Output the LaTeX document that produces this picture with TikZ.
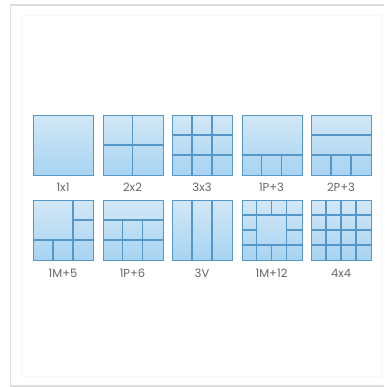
\documentclass[tikz,border=0pt]{standalone}
\usepackage{fontspec}
\setmainfont{Poppins}
\definecolor{pborder}{HTML}{5597C8}
\definecolor{ptop}{HTML}{D2E8F7}
\definecolor{pbot}{HTML}{A6D3F1}
\definecolor{labgray}{HTML}{666666}
\definecolor{framegray}{HTML}{DDDDDD}
\definecolor{faint}{HTML}{F8F8F8}
\begin{document}
\begin{tikzpicture}[x=1pt,y=-1pt,
  panel/.style={draw=pborder, line width=1.3pt, top color=ptop, bottom color=pbot,
    minimum width=60pt, minimum height=60pt, inner sep=0pt, anchor=north west},
  gridline/.style={draw=pborder, line width=1.3pt},
  lab/.style={font=\fontsize{11.5}{11.5}\selectfont, text=labgray, inner sep=0pt}]
\useasboundingbox (0,0) rectangle (384,387);
\fill[white] (0,0) rectangle (384,387);
% frame
\draw[faint, line width=1pt] (21,16) rectangle (381,376);
\draw[framegray, line width=1.5pt] (384,5) -- (10.5,5) -- (10.5,386) -- (384,386);
% row 1
\node[panel] (p1) at (33,115) {};
\node[panel] (p2) at (102.5,115) {};
\node[panel] (p3) at (172,115) {};
\node[panel] (p4) at (241.5,115) {};
\node[panel] (p5) at (311,115) {};
% row 2
\node[panel] (q1) at (33,200) {};
\node[panel] (q2) at (102.5,200) {};
\node[panel] (q3) at (172,200) {};
\node[panel] (q4) at (241.5,200) {};
\node[panel] (q5) at (311,200) {};
% labels
\node[lab] (l1) at (63,187) {1x1};
\node[lab] (l2) at (132.5,187) {2x2};
\node[lab] (l3) at (202,187) {3x3};
\node[lab] (l4) at (271.5,187) {1P+3};
\node[lab] (l5) at (341,187) {2P+3};
\node[lab] (m1) at (63,273) {1M+5};
\node[lab] (m2) at (132.5,273) {1P+6};
\node[lab] (m3) at (202,273) {3V};
\node[lab] (m4) at (271.5,273) {1M+12};
\node[lab] (m5) at (341,273) {4x4};
% 2x2
\begin{scope}[shift={(102.5,115)}]
\draw[gridline] (30,0) -- (30,60) (0,30) -- (60,30);
\end{scope}
% 3x3
\begin{scope}[shift={(172,115)}]
\draw[gridline] (20,0) -- (20,60) (40,0) -- (40,60) (0,20) -- (60,20) (0,40) -- (60,40);
\end{scope}
% 1P+3
\begin{scope}[shift={(241.5,115)}]
\draw[gridline] (0,40) -- (60,40) (20,40) -- (20,60) (40,40) -- (40,60);
\end{scope}
% 2P+3
\begin{scope}[shift={(311,115)}]
\draw[gridline] (0,20) -- (60,20) (0,40) -- (60,40) (20,40) -- (20,60) (40,40) -- (40,60);
\end{scope}
% 1M+5
\begin{scope}[shift={(33,200)}]
\draw[gridline] (40,0) -- (40,60) (0,40) -- (60,40) (40,20) -- (60,20) (20,40) -- (20,60);
\end{scope}
% 1P+6
\begin{scope}[shift={(102.5,200)}]
\draw[gridline] (0,20) -- (60,20) (0,40) -- (60,40) (20,20) -- (20,60) (40,20) -- (40,60);
\end{scope}
% 3V
\begin{scope}[shift={(172,200)}]
\draw[gridline] (20,0) -- (20,60) (40,0) -- (40,60);
\end{scope}
% 1M+12
\begin{scope}[shift={(241.5,200)}]
\draw[gridline] (15,0) -- (15,60) (45,0) -- (45,60) (0,15) -- (60,15) (0,45) -- (60,45)
  (30,0) -- (30,15) (30,45) -- (30,60) (0,30) -- (15,30) (45,30) -- (60,30);
\end{scope}
% 4x4
\begin{scope}[shift={(311,200)}]
\draw[gridline] (15,0) -- (15,60) (30,0) -- (30,60) (45,0) -- (45,60)
  (0,15) -- (60,15) (0,30) -- (60,30) (0,45) -- (60,45);
\end{scope}
\end{tikzpicture}
\end{document}
